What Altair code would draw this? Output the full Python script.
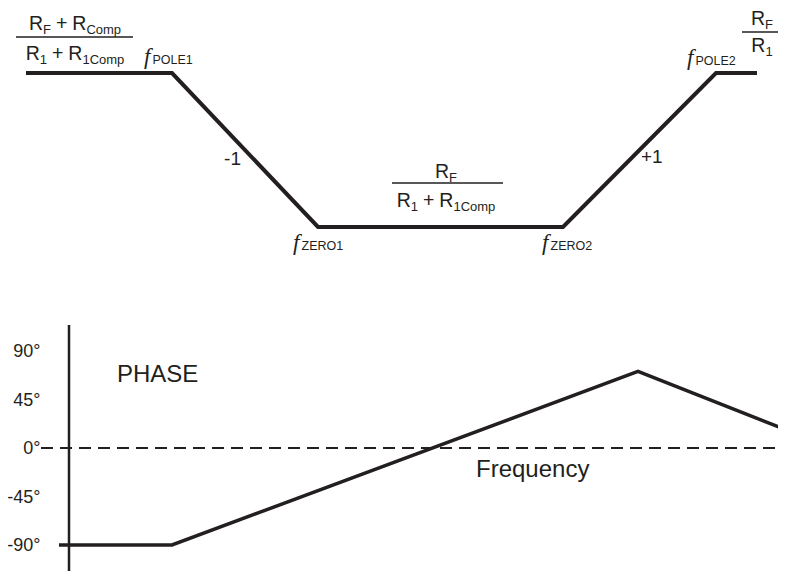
import altair as alt
import pandas as pd

INK = "#231f20"
SANS = "Liberation Sans"
SERIF = "Liberation Serif"

# ---- magnitude (gain) asymptote diagram, in diagram coordinates ----
mag_freq = [26, 172, 318, 563, 716, 757]
mag_level = [73, 73, 227, 227, 73, 73]

# ---- phase diagram ----
phase_freq = [59, 172, 638, 783]
phase_deg = [-90, -90, 71, 18]
phase_ticks = [90, 45, 0, -45, -90]
phase_tick_labels = ["90°", "45°", "0°", "-45°", "-90°"]

# ---- gain-expression labels: (pieces, centre x, baseline y); piece = (text, kind)
# kind: "m" main text, "s" subscript, "o" operator with padding
expr_pieces = [
    [("R", "m"), ("F", "s"), ("+", "o"), ("R", "m"), ("Comp", "s")],
    [("R", "m"), ("1", "s"), ("+", "o"), ("R", "m"), ("1Comp", "s")],
    [("R", "m"), ("F", "s")],
    [("R", "m"), ("1", "s"), ("+", "o"), ("R", "m"), ("1Comp", "s")],
    [("R", "m"), ("F", "s")],
    [("R", "m"), ("1", "s")],
]
expr_cx = [75, 75, 446, 446, 762, 762]
expr_base = [30, 60, 178, 207, 25, 52]

# fraction bars
bar_x1 = [16, 392, 742]
bar_x2 = [133, 503, 783]
bar_y = [37, 183, 32]

# corner-frequency labels: italic f + subscript name
f_names = ["POLE1", "ZERO1", "ZERO2", "POLE2"]
f_x = [144, 293, 542, 687]
f_y = [64, 250, 250, 65]

# slope labels
slope_text = ["-1", "+1"]
slope_x = [241, 641]
slope_y = [165, 163]
slope_align = ["right", "left"]

# other labels
misc_text = ["PHASE", "Frequency"]
misc_x = [117, 476]
misc_y = [382, 477]

# phase axis line
axis_x = [69]
axis_y1 = [325]
axis_y2 = [571]

# zero line span
zero_x1 = [41]
zero_x2 = [780]
zero_deg = [0]

MAIN, SUB, PAD = 19.5, 13, 5
ADV = {"R": .722, "F": .611, "C": .722, "o": .556, "m": .833, "p": .556, "1": .556, "+": .584}


def width(t, s):
    return sum(ADV.get(c, .556) for c in t) * s


def piece_w(t, k):
    if k == "s":
        return width(t, SUB)
    if k == "o":
        return width(t, MAIN) + 2 * PAD
    return width(t, MAIN)


rows = []
for pieces, cx, by in zip(expr_pieces, expr_cx, expr_base):
    total = sum(piece_w(t, k) for t, k in pieces)
    x = cx - total / 2
    for t, k in pieces:
        s = SUB if k == "s" else MAIN
        rows.append({"x": x + (PAD if k == "o" else 0), "y": by + (4 if k == "s" else 0), "t": t, "s": s})
        x += piece_w(t, k)
for n, fx, fy in zip(f_names, f_x, f_y):
    rows.append({"x": fx + 8.5, "y": fy, "t": n, "s": 12.5})
for t, x, y in zip(misc_text, misc_x, misc_y):
    rows.append({"x": x, "y": y, "t": t, "s": 24})
text_df = pd.DataFrame(rows)

X = alt.Scale(domain=[8, 778], range=[0, 770], nice=False, zero=False)
PY = alt.Scale(domain=[8, 573], range=[0, 565], nice=False, zero=False)
PH = alt.Scale(domain=[-90, 90], range=[537, 343], nice=False, zero=False)

mag = alt.Chart(pd.DataFrame({"f": mag_freq, "g": mag_level})).mark_line(
    color=INK, strokeWidth=4, strokeJoin="miter"
).encode(x=alt.X("f:Q", scale=X, axis=None), y=alt.Y("g:Q", scale=PY, axis=None))

phase = alt.Chart(pd.DataFrame({"f": phase_freq, "p": phase_deg})).mark_line(
    color=INK, strokeWidth=3.5, strokeJoin="miter"
).encode(x=alt.X("f:Q", scale=X, axis=None), y=alt.Y("p:Q", scale=PH, axis=None))

zero = alt.Chart(pd.DataFrame({"a": zero_x1, "b": zero_x2, "p": zero_deg})).mark_rule(
    color=INK, strokeWidth=2, strokeDash=[12, 7]
).encode(x=alt.X("a:Q", scale=X, axis=None), x2="b:Q", y=alt.Y("p:Q", scale=PH, axis=None))

ticks = alt.Chart(pd.DataFrame({"p": phase_ticks, "t": phase_tick_labels, "x": [40.5] * 5})).mark_text(
    color=INK, font=SANS, fontSize=18, align="right", baseline="middle", dy=1
).encode(x=alt.X("x:Q", scale=X, axis=None), y=alt.Y("p:Q", scale=PH, axis=None), text="t:N")

axis = alt.Chart(pd.DataFrame({"x": axis_x, "y1": axis_y1, "y2": axis_y2})).mark_rule(
    color=INK, strokeWidth=2.5
).encode(x=alt.X("x:Q", scale=X, axis=None), y=alt.Y("y1:Q", scale=PY, axis=None), y2="y2:Q")

bars = alt.Chart(pd.DataFrame({"a": bar_x1, "b": bar_x2, "y": bar_y})).mark_rule(
    color=INK, strokeWidth=1.5
).encode(x=alt.X("a:Q", scale=X, axis=None), x2="b:Q", y=alt.Y("y:Q", scale=PY, axis=None))

texts = alt.Chart(text_df).mark_text(
    color=INK, font=SANS, align="left", baseline="alphabetic"
).encode(
    x=alt.X("x:Q", scale=X, axis=None),
    y=alt.Y("y:Q", scale=PY, axis=None),
    text="t:N",
    size=alt.Size("s:Q", scale=None, legend=None),
)

slopes = alt.Chart(pd.DataFrame({"x": slope_x, "y": slope_y, "t": slope_text, "a": slope_align})).mark_text(
    color=INK, font=SANS, fontSize=19, baseline="alphabetic",
    align=alt.ExprRef(expr="datum.a"),
).encode(x=alt.X("x:Q", scale=X, axis=None), y=alt.Y("y:Q", scale=PY, axis=None), text="t:N")

fs = alt.Chart(pd.DataFrame({"x": f_x, "y": f_y, "t": ["f"] * 4})).mark_text(
    color=INK, font=SERIF, fontStyle="italic", fontSize=23, align="left", baseline="alphabetic"
).encode(x=alt.X("x:Q", scale=X, axis=None), y=alt.Y("y:Q", scale=PY, axis=None), text="t:N")

chart = alt.layer(mag, bars, texts, slopes, fs, axis, zero, phase, ticks).resolve_scale(
    y="independent"
).properties(width=770, height=565, padding=0, autosize="none", background="white").configure_view(stroke=None)

chart.save("out.html", embed_options={"renderer": "svg", "actions": False})
